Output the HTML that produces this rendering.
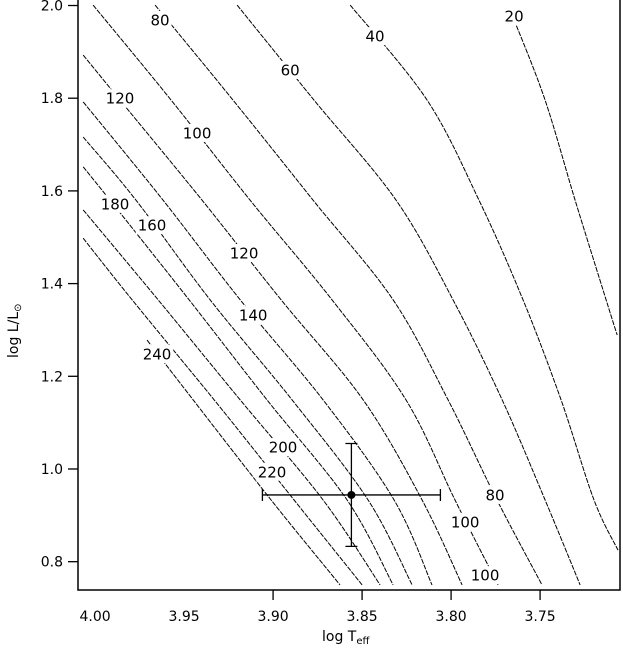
<!DOCTYPE html>
<html><head><meta charset="utf-8"><title>Contour chart</title>
<style>
html,body{margin:0;padding:0;background:#fff;}
svg{display:block;font-family:"DejaVu Sans","Liberation Sans",sans-serif;}
</style></head>
<body>
<svg id="chart" width="623" height="648" viewBox="0 0 623 648" xmlns="http://www.w3.org/2000/svg"></svg>
<script>
// ---- data ----
const xTicks = [4.00, 3.95, 3.90, 3.85, 3.80, 3.75];
const xTickMarks = [3.90, 3.85, 3.80, 3.75];
const xTickLabels = ["4.00", "3.95", "3.90", "3.85", "3.80", "3.75"];
const yTicks = [0.8, 1.0, 1.2, 1.4, 1.6, 1.8, 2.0];
const yTickLabels = ["0.8", "1.0", "1.2", "1.4", "1.6", "1.8", "2.0"];

const c20T = [3.7646, 3.7472, 3.7303, 3.7129, 3.7067];
const c20L = [1.969, 1.796, 1.580, 1.365, 1.289];
const c40T = [3.8567, 3.8135, 3.7843, 3.7596, 3.7382, 3.7197, 3.7062];
const c40L = [2.001, 1.796, 1.580, 1.365, 1.149, 0.933, 0.825];
const c60T = [3.9202, 3.8770, 3.8309, 3.7989, 3.7713, 3.7472, 3.7275];
const c60L = [2.001, 1.796, 1.580, 1.365, 1.149, 0.933, 0.750];
const c80T = [3.9663, 3.9225, 3.8775, 3.8326, 3.8017, 3.7742, 3.7489];
const c80L = [2.001, 1.796, 1.580, 1.365, 1.149, 0.933, 0.750];
const c100T = [4.0011, 3.9573, 3.9129, 3.8669, 3.8253, 3.7978, 3.7736];
const c100L = [2.001, 1.796, 1.580, 1.365, 1.149, 0.933, 0.750];
const c120T = [4.0067, 3.9860, 3.9399, 3.8955, 3.8494, 3.8163, 3.7938];
const c120L = [1.893, 1.796, 1.580, 1.365, 1.149, 0.933, 0.750];
const c140T = [4.0067, 3.9618, 3.9185, 3.8719, 3.8320, 3.8107];
const c140L = [1.792, 1.580, 1.365, 1.149, 0.933, 0.750];
const c160T = [4.0067, 3.9770, 3.9354, 3.8893, 3.8466, 3.8219];
const c160L = [1.716, 1.580, 1.365, 1.149, 0.933, 0.750];
const c180T = [4.0067, 3.9916, 3.9472, 3.9034, 3.8584, 3.8326];
const c180L = [1.652, 1.580, 1.365, 1.149, 0.933, 0.750];
const c200T = [4.0067, 3.9646, 3.9185, 3.8719, 3.8399];
const c200L = [1.559, 1.365, 1.149, 0.933, 0.750];
const c220T = [4.0067, 3.9792, 3.9331, 3.8882, 3.8500];
const c220L = [1.498, 1.365, 1.149, 0.933, 0.750];
const c240T = [3.9708, 3.9449, 3.9011, 3.8624];
const c240L = [1.278, 1.149, 0.933, 0.750];

const contourNames = ["20","40","60","80","100","120","140","160","180","200","220","240"];
const contourT = [c20T,c40T,c60T,c80T,c100T,c120T,c140T,c160T,c180T,c200T,c220T,c240T];
const contourL = [c20L,c40L,c60L,c80L,c100L,c120L,c140L,c160L,c180L,c200L,c220L,c240L];

const labelText = ["80","60","40","20","120","100","180","160","120","140","240","200","220","80","100","100"];
const labelT = [3.9635,3.8904,3.8427,3.7646,3.9860,3.9427,3.9888,3.9680,3.9163,3.9112,3.9652,3.8944,3.9006,3.7753,3.7921,3.7809];
const labelL = [1.969,1.861,1.934,1.977,1.800,1.725,1.572,1.526,1.466,1.332,1.248,1.047,0.994,0.944,0.886,0.771];

const pointT = [3.856];
const pointL = [0.944];
const pointTErr = [0.050];
const pointLErr = [0.111];

// ---- axes ----
const X0 = 78, X1 = 620, Y0 = 590, Y1 = 0;
const tMin = 4.0096, tMax = 3.7051;   // reversed axis
const lMin = 0.7389, lMax = 2.0119;
function xs(t){ return X0 + (t - tMin) / (tMax - tMin) * (X1 - X0); }
function ys(l){ return Y0 - (l - lMin) / (lMax - lMin) * (Y0 - Y1); }

const NS = "http://www.w3.org/2000/svg";
const svg = document.getElementById("chart");
function mk(tag, attrs, parent){
  const e = document.createElementNS(NS, tag);
  for (const k in attrs) e.setAttribute(k, attrs[k]);
  (parent || svg).appendChild(e);
  return e;
}

const defs = mk("defs", {});
const cp = mk("clipPath", {id:"plotclip"}, defs);
mk("rect", {x:X0, y:Y1, width:X1-X0, height:Y0-Y1}, cp);

const gC = mk("g", {"clip-path":"url(#plotclip)"});


function smoothPath(px, py){
  let d = "M" + px[0].toFixed(1) + "," + py[0].toFixed(1);
  for (let i = 0; i < px.length - 1; i++){
    const x0 = px[Math.max(i-1,0)], y0 = py[Math.max(i-1,0)];
    const x1 = px[i], y1 = py[i], x2 = px[i+1], y2 = py[i+1];
    const x3 = px[Math.min(i+2,px.length-1)], y3 = py[Math.min(i+2,px.length-1)];
    const c1x = x1 + (x2-x0)/6, c1y = y1 + (y2-y0)/6;
    const c2x = x2 - (x3-x1)/6, c2y = y2 - (y3-y1)/6;
    d += " C" + c1x.toFixed(1)+","+c1y.toFixed(1)+" "+c2x.toFixed(1)+","+c2y.toFixed(1)+" "+x2.toFixed(1)+","+y2.toFixed(1);
  }
  return d;
}
for (let k = 0; k < contourT.length; k++){
  const px = contourT[k].map(xs), py = contourL[k].map(ys);
  const p = mk("path", {d: smoothPath(px, py), fill:"none", stroke:"#000", "stroke-width":"1", "stroke-dasharray":"5 1.2"}, gC);
  
  
}

const gL = mk("g", {});


for (let i = 0; i < labelText.length; i++){
  const cx = xs(labelT[i]), cy = ys(labelL[i]);
  const w = labelText[i].length * 9.5 + 4;
  const r = mk("rect", {x:cx - w/2, y:cy - 9, width:w, height:18, fill:"#fff"}, gL);
  
  
  const t = mk("text", {x:cx, y:cy + 5.5, "text-anchor":"middle", "font-size":"15", fill:"#000"}, gL);
  t.textContent = labelText[i];
  
  
}

const gP = mk("g", {});


for (let i = 0; i < pointT.length; i++){
  const px = xs(pointT[i]), py = ys(pointL[i]);
  const xl = xs(pointT[i] + pointTErr[i]), xr = xs(pointT[i] - pointTErr[i]);
  const yt = ys(pointL[i] + pointLErr[i]), yb = ys(pointL[i] - pointLErr[i]);
  const eh = mk("path", {d:`M${xl},${py}H${xr}M${xl},${py-6}V${py+6}M${xr},${py-6}V${py+6}`, stroke:"#000", "stroke-width":"1.3", fill:"none"}, gP);
  
  
  const ev = mk("path", {d:`M${px},${yt}V${yb}M${px-6},${yt}H${px+6}M${px-6},${yb}H${px+6}`, stroke:"#000", "stroke-width":"1.3", fill:"none"}, gP);
  
  
  const c = mk("circle", {cx:px, cy:py, r:4, fill:"#000"}, gP);
  
  
}

const ax = mk("path", {d:`M${X0},${Y1}V${Y0}H${X1}V${Y1}`, stroke:"#000", "stroke-width":"1.5", fill:"none"});



for (let i = 0; i < xTickMarks.length; i++){
  const x = xs(xTickMarks[i]);
  const tk = mk("line", {x1:x, x2:x, y1:Y0, y2:Y0+10, stroke:"#000", "stroke-width":"1.3"});
  
  
}
for (let i = 0; i < xTicks.length; i++){
  const t = mk("text", {x:xs(xTicks[i]), y:621, "text-anchor":"middle", "font-size":"14"});
  t.textContent = xTickLabels[i];
  
  
}
for (let i = 0; i < yTicks.length; i++){
  const y = ys(yTicks[i]);
  const tk = mk("line", {x1:X0-10, x2:X0, y1:y, y2:y, stroke:"#000", "stroke-width":"1.3"});
  
  
  const t = mk("text", {x:63, y:y+5, "text-anchor":"end", "font-size":"14"});
  t.textContent = yTickLabels[i];
  
  
}

const xt = mk("text", {x:322, y:641, "font-size":"14"});


xt.innerHTML = 'log T<tspan font-size="10" dy="3">eff</tspan>';
const yt = mk("text", {x:0, y:0, "font-size":"14", transform:"translate(18,358) rotate(-90)"});


yt.innerHTML = 'log L/L<tspan font-size="10" dy="3">⊙</tspan>';
</script>
</body></html>
